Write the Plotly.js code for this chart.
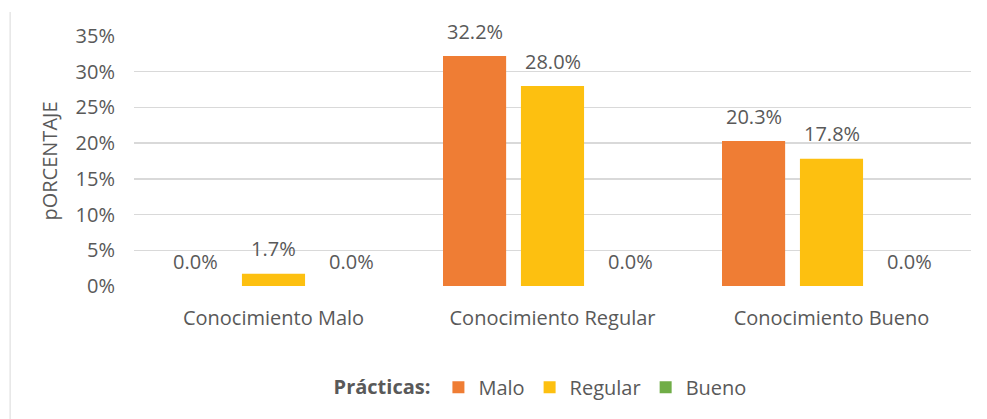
<!DOCTYPE html>
<html>
<head>
<meta charset="utf-8">
<script src="https://cdn.plot.ly/plotly-3.0.1.min.js"></script>
<style>
html,body{margin:0;padding:0;background:#fff;}
#chart{width:987px;height:419px;}
</style>
</head>
<body>
<div id="chart"></div>
<script>
const categories = ["Conocimiento Malo", "Conocimiento Regular", "Conocimiento Bueno"];
const seriesNames = ["Malo", "Regular", "Bueno"];
const malo = [0.0, 32.2, 20.3];
const regular = [1.7, 28.0, 17.8];
const bueno = [0.0, 0.0, 0.0];
const yTicks = [0, 5, 10, 15, 20, 25, 30, 35];
const yTickLabels = ["0%", "5%", "10%", "15%", "20%", "25%", "30%", "35%"];

const colors = ["#EF7D34", "#FDC010", "#70AD47"];
const seriesValues = [malo, regular, bueno];
const txtColor = "#595959";
const fontFam = "'Open Sans', sans-serif";
const fs = 20;

const traces = seriesValues.map((vals, i) => ({
  type: "bar",
  name: seriesNames[i],
  x: categories,
  y: vals,
  marker: {color: colors[i], line: {width: 0}},
  hoverinfo: "skip"
}));

const shiftPx = [-78, 0, 78];
const annotations = [];
seriesValues.forEach((vals, i) => {
  vals.forEach((v, j) => {
    annotations.push({
      x: categories[j], y: v, xref: "x", yref: "y",
      text: v.toFixed(1) + "%",
      showarrow: false, xshift: shiftPx[i], yshift: 25,
      yanchor: "middle", xanchor: "center",
      font: {family: fontFam, size: fs, color: txtColor}
    });
  });
});

const layout = {
  width: 987, height: 419,
  margin: {l: 134, r: 16, t: 36, b: 133},
  paper_bgcolor: "#ffffff", plot_bgcolor: "#ffffff",
  barmode: "group",
  bargap: 0.162,
  bargroupgap: 0.19,
  font: {family: fontFam, size: fs, color: txtColor},
  showlegend: true,
  legend: {
    orientation: "h", x: 0.487, xanchor: "center", y: -0.405, yanchor: "middle",
    title: {text: "<b>Prácticas:</b>", side: "left", font: {family: fontFam, size: fs, color: txtColor}},
    font: {family: fontFam, size: fs, color: txtColor},
    itemwidth: 30, tracegroupgap: 0
  },
  xaxis: {
    type: "category",
    showgrid: false, zeroline: false, showline: false,
    ticks: "", ticklabelstandoff: 18,
    tickfont: {family: fontFam, size: fs, color: txtColor},
    fixedrange: true
  },
  yaxis: {
    range: [0, 35],
    tickvals: yTicks, ticktext: yTickLabels,
    showgrid: true, gridcolor: "#D9D9D9", gridwidth: 1.3,
    zeroline: false, showline: false, ticks: "",
    ticklabelstandoff: 18,
    tickfont: {family: fontFam, size: fs, color: txtColor},
    title: {text: "pORCENTAJE", standoff: 12, font: {family: fontFam, size: fs, color: txtColor}},
    fixedrange: true
  },
  annotations: annotations,
  shapes: [
    {type: "line", xref: "paper", yref: "paper", x0: -0.148, x1: -0.148, y0: 1.096, y1: -0.54,
     line: {color: "#D9D9D9", width: 1}}
  ]
};

Plotly.newPlot("chart", traces, layout, {displayModeBar: false, staticPlot: true});
</script>
</body>
</html>
